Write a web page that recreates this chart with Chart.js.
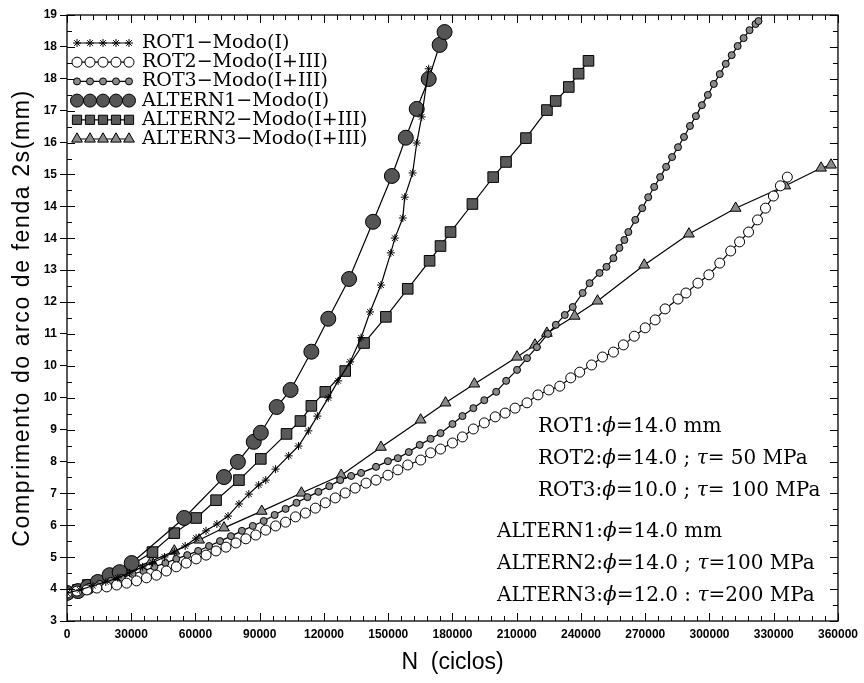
<!DOCTYPE html>
<html>
<head>
<meta charset="utf-8">
<script src="https://cdn.jsdelivr.net/npm/chart.js@4.4.1/dist/chart.umd.min.js"></script>
<style>
  html, body { margin: 0; padding: 0; background: #fff; }
  #chart { display: block; }
</style>
</head>
<body>
<canvas id="chart" width="864" height="683"></canvas>
<script>
// N (ciclos) and crack arc length 2s (mm)
const rot1N = [0, 6000, 12100, 18100, 23700, 29200, 35300, 39900, 45500, 50100, 55200, 60300, 64900, 70000, 75200, 80300, 84900, 89500, 92800, 97400, 103500, 108100, 112700, 116900, 122000, 126600, 132200, 137300, 141500, 146600, 151200, 153100, 156800, 157700, 161400, 163300, 165600, 168900];
const rot1S = [3.74, 3.82, 3.93, 4.03, 4.14, 4.27, 4.43, 4.54, 4.69, 4.82, 4.98, 5.19, 5.38, 5.56, 5.77, 6.09, 6.35, 6.59, 6.72, 7.01, 7.36, 7.62, 8.02, 8.41, 8.89, 9.34, 9.84, 10.48, 11.16, 11.87, 12.72, 13.11, 13.64, 14.19, 14.83, 15.62, 16.31, 17.58];

const rot2N = [0, 4640, 9280, 13920, 18560, 23200, 27840, 32470, 37110, 41750, 46390, 51030, 55670, 60310, 64950, 69590, 74230, 78870, 83510, 88150, 92780, 97420, 102060, 106700, 111340, 115980, 120620, 125260, 129900, 134540, 139640, 144280, 149850, 154480, 159120, 165150, 169790, 174430, 180000, 184640, 189740, 194850, 199950, 204590, 209230, 214790, 219900, 225000, 230100, 235210, 239390, 244950, 250050, 255160, 259800, 264900, 270000, 274640, 279280, 285310, 289020, 294590, 299690, 304790, 309900, 314070, 318250, 322430, 326140, 329850, 333100, 336350];
const rot2S = [3.74, 3.79, 3.82, 3.87, 3.90, 3.95, 4.00, 4.06, 4.14, 4.21, 4.32, 4.43, 4.53, 4.64, 4.74, 4.85, 4.95, 5.06, 5.17, 5.27, 5.40, 5.51, 5.61, 5.75, 5.85, 5.98, 6.12, 6.25, 6.38, 6.51, 6.64, 6.72, 6.85, 6.99, 7.12, 7.25, 7.44, 7.54, 7.70, 7.86, 8.07, 8.23, 8.39, 8.49, 8.62, 8.76, 8.97, 9.10, 9.20, 9.42, 9.57, 9.76, 9.97, 10.10, 10.29, 10.52, 10.74, 10.95, 11.24, 11.50, 11.66, 11.92, 12.14, 12.45, 12.77, 13.01, 13.27, 13.59, 13.90, 14.22, 14.49, 14.72];

const rot3N = [0, 5100, 10210, 15310, 20410, 25520, 30620, 35720, 40820, 45930, 51030, 56130, 61240, 66340, 71440, 76550, 81650, 86750, 91860, 96960, 102060, 107160, 112270, 117370, 122470, 127580, 132680, 137320, 144280, 149850, 154480, 159590, 164690, 169790, 174430, 180000, 184640, 189740, 194850, 200410, 205050, 210150, 214790, 219430, 224540, 228250, 232430, 236140, 240780, 244020, 248660, 251910, 255160, 257940, 260260, 262120, 265360, 268610, 271390, 274180, 276960, 279750, 282530, 285310, 288100, 290880, 293660, 296450, 299230, 302020, 304800, 307590, 310370, 313150, 315940, 318720, 321500, 322890];
const rot3S = [3.74, 3.82, 3.90, 3.98, 4.06, 4.14, 4.24, 4.32, 4.43, 4.53, 4.64, 4.74, 4.85, 4.98, 5.11, 5.24, 5.38, 5.51, 5.64, 5.80, 5.96, 6.12, 6.27, 6.41, 6.56, 6.72, 6.83, 6.91, 7.07, 7.22, 7.30, 7.46, 7.65, 7.81, 7.96, 8.20, 8.41, 8.62, 8.83, 9.05, 9.34, 9.63, 9.94, 10.23, 10.58, 10.82, 11.08, 11.29, 11.66, 11.92, 12.19, 12.35, 12.58, 12.85, 13.06, 13.27, 13.59, 13.90, 14.19, 14.46, 14.72, 14.99, 15.25, 15.51, 15.78, 16.07, 16.33, 16.62, 16.89, 17.18, 17.44, 17.71, 17.94, 18.18, 18.39, 18.60, 18.76, 18.84];

const altern1N = [0, 5100, 9700, 14400, 19900, 24600, 30200, 54700, 73300, 79800, 87200, 90500, 97900, 104400, 114100, 122000, 131700, 142900, 151700, 158200, 163300, 168900, 174000, 176300];
const altern1S = [3.74, 3.79, 3.90, 4.03, 4.21, 4.29, 4.53, 5.72, 6.80, 7.20, 7.73, 7.97, 8.65, 9.10, 10.11, 10.98, 12.03, 13.54, 14.75, 15.76, 16.52, 17.31, 18.21, 18.55];

const altern2N = [0, 5100, 9700, 14400, 19500, 24600, 30200, 39900, 50100, 60300, 69600, 80300, 90500, 102500, 109000, 114100, 120600, 129900, 138700, 148900, 159100, 169300, 174400, 179100, 189300, 199000, 205000, 214300, 224100, 228200, 234300, 238900, 243500];
const altern2S = [3.74, 3.82, 3.95, 4.03, 4.16, 4.29, 4.48, 4.82, 5.32, 5.72, 6.19, 6.72, 7.28, 7.94, 8.28, 8.68, 9.05, 9.60, 10.34, 11.03, 11.77, 12.51, 12.90, 13.27, 14.01, 14.72, 15.12, 15.75, 16.49, 16.73, 17.10, 17.45, 17.79];

const altern3N = [0, 9740, 19480, 29230, 39430, 50100, 61700, 73300, 90930, 109480, 128040, 146600, 165150, 176750, 190210, 210150, 218500, 224070, 237060, 247730, 269540, 290410, 312220, 335410, 352120, 356750];
const altern3S = [3.74, 3.92, 4.14, 4.35, 4.58, 4.85, 5.14, 5.46, 5.90, 6.38, 6.85, 7.59, 8.31, 8.76, 9.26, 9.97, 10.29, 10.60, 11.05, 11.45, 12.40, 13.22, 13.90, 14.49, 14.96, 15.04];

const seriesNames = ['ROT1\u2212Modo(I)', 'ROT2\u2212Modo(I+III)', 'ROT3\u2212Modo(I+III)',
                     'ALTERN1\u2212Modo(I)', 'ALTERN2\u2212Modo(I+III)', 'ALTERN3\u2212Modo(I+III)'];

// y axis labels exactly as printed (20 evenly spaced ticks from 3 to 19)
const yTickLabels = ['3', '4', '5', '6', '7', '8', '9', '10', '10', '11', '12', '13', '14', '14', '15', '16', '17', '18', '18', '19'];
const yMin = 3, yMax = 19;
const xMin = 0, xMax = 360000, xStep = 30000;
const yTitle = 'Comprimento do arco de fenda 2s(mm)';

const notes = [
    { x: 538, y: 427, parts: ['ROT1:', ['\u03d5'], '=14.0 mm'] },
    { x: 538, y: 459, parts: ['ROT2:', ['\u03d5'], '=14.0 ; ', ['\u03c4'], '= 50 MPa'] },
    { x: 538, y: 491, parts: ['ROT3:', ['\u03d5'], '=10.0 ; ', ['\u03c4'], '= 100 MPa'] },
    { x: 497, y: 532, parts: ['ALTERN1:', ['\u03d5'], '=14.0 mm'] },
    { x: 497, y: 564, parts: ['ALTERN2:', ['\u03d5'], '=14.0 ; ', ['\u03c4'], '=100 MPa'] },
    { x: 497, y: 596, parts: ['ALTERN3:', ['\u03d5'], '=12.0 : ', ['\u03c4'], '=200 MPa'] }
];

function pts(xs, ys) {
    return xs.map((v, i) => ({ x: v, y: ys[i] }));
}

function series(label, xs, ys, style, radius, fill) {
    return {
        label: label,
        data: pts(xs, ys),
        showLine: true,
        borderColor: '#000',
        borderWidth: 1.2,
        pointStyle: style,
        pointRadius: radius,
        pointBackgroundColor: fill,
        pointBorderColor: '#000',
        pointBorderWidth: 1,
        tension: 0
    };
}

const whiteBg = {
    id: 'whiteBg',
    beforeDraw(chart) {
        const ctx = chart.ctx;
        ctx.save();
        ctx.fillStyle = '#fff';
        ctx.fillRect(0, 0, chart.width, chart.height);
        ctx.restore();
    }
};

// frame with inward ticks on all four sides, plus the spaced-out y title
const frameTicks = {
    id: 'frameTicks',
    afterDraw(chart) {
        const { ctx, chartArea: a, scales: { x, y } } = chart;
        ctx.save();
        ctx.strokeStyle = '#000';
        ctx.lineWidth = 1.3;
        ctx.strokeRect(a.left, a.top, a.width, a.height);
        ctx.lineWidth = 1;
        ctx.beginPath();
        for (let n = xMin; n <= xMax; n += xStep / 5) {
            const px = Math.round(x.getPixelForValue(n)) + 0.5;
            const len = n % xStep === 0 ? 8 : 5;
            ctx.moveTo(px, a.bottom); ctx.lineTo(px, a.bottom - len);
            ctx.moveTo(px, a.top); ctx.lineTo(px, a.top + len);
        }
        const nY = (yTickLabels.length - 1) * 2;
        for (let k = 0; k <= nY; k++) {
            const py = Math.round(y.getPixelForValue(yMin + k * (yMax - yMin) / nY)) + 0.5;
            const len = k % 2 === 0 ? 8 : 5;
            ctx.moveTo(a.left, py); ctx.lineTo(a.left + len, py);
            ctx.moveTo(a.right, py); ctx.lineTo(a.right - len, py);
        }
        ctx.stroke();

        ctx.translate(23, (a.top + a.bottom) / 2);
        ctx.rotate(-Math.PI / 2);
        ctx.fillStyle = '#000';
        ctx.font = '23px "Liberation Sans", Arial, sans-serif';
        ctx.letterSpacing = '1.6px';
        ctx.textAlign = 'center';
        ctx.textBaseline = 'middle';
        ctx.fillText(yTitle, 0, 0);
        ctx.restore();
    }
};

// legend: five markers joined by a line, then the name
const markerLegend = {
    id: 'markerLegend',
    afterDraw(chart) {
        const ctx = chart.ctx;
        ctx.save();
        chart.data.datasets.forEach((ds, i) => {
            const yy = 43 + i * 19.2;
            ctx.strokeStyle = '#000';
            ctx.lineWidth = 1.2;
            ctx.beginPath();
            ctx.moveTo(77, yy); ctx.lineTo(129, yy);
            ctx.stroke();
            for (let k = 0; k < 5; k++) {
                ctx.fillStyle = ds.pointBackgroundColor;
                ctx.strokeStyle = '#000';
                ctx.lineWidth = 1;
                Chart.helpers.drawPoint(ctx, {
                    pointStyle: ds.pointStyle,
                    radius: Math.min(ds.pointRadius, 6.5),
                    rotation: 0,
                    borderWidth: 1
                }, 77 + k * 13, yy);
            }
            ctx.fillStyle = '#000';
            ctx.font = '19px "DejaVu Serif", serif';
            ctx.textBaseline = 'middle';
            ctx.textAlign = 'left';
            ctx.fillText(seriesNames[i], 142, yy);
        });
        ctx.restore();
    }
};

// parameter notes in the lower right
const paramNotes = {
    id: 'paramNotes',
    afterDraw(chart) {
        const ctx = chart.ctx;
        ctx.save();
        ctx.fillStyle = '#000';
        ctx.textBaseline = 'middle';
        ctx.textAlign = 'left';
        notes.forEach(n => {
            let cx = n.x;
            n.parts.forEach(p => {
                const italic = Array.isArray(p);
                const s = italic ? p[0] : p;
                ctx.font = (italic ? 'italic ' : '') + '20px "DejaVu Serif", serif';
                ctx.fillText(s, cx, n.y);
                cx += ctx.measureText(s).width;
            });
        });
        ctx.restore();
    }
};

new Chart(document.getElementById('chart'), {
    type: 'scatter',
    data: {
        datasets: [
            series(seriesNames[0], rot1N, rot1S, 'star', 4, '#000'),
            series(seriesNames[1], rot2N, rot2S, 'circle', 5, '#fff'),
            series(seriesNames[2], rot3N, rot3S, 'circle', 3.5, '#8a8a8a'),
            series(seriesNames[3], altern1N, altern1S, 'circle', 7.5, '#555'),
            series(seriesNames[4], altern2N, altern2S, 'rect', 7.5, '#5a5a5a'),
            series(seriesNames[5], altern3N, altern3S, 'triangle', 6.2, '#8a8a8a')
        ]
    },
    plugins: [whiteBg, frameTicks, markerLegend, paramNotes],
    options: {
        responsive: false,
        animation: false,
        layout: { padding: { left: 0, top: 15, right: 21, bottom: 0 } },
        plugins: {
            legend: { display: false },
            tooltip: { enabled: false }
        },
        scales: {
            x: {
                type: 'linear',
                min: xMin,
                max: xMax,
                afterFit(scale) { scale.height = 62; },
                border: { display: false },
                grid: { drawOnChartArea: false, drawTicks: false },
                ticks: {
                    stepSize: xStep,
                    padding: 6,
                    maxRotation: 0,
                    autoSkip: false,
                    color: '#000',
                    font: { family: '"Liberation Sans", Arial, sans-serif', size: 12, weight: 'bold' },
                    callback: v => String(v)
                },
                title: {
                    display: true,
                    text: 'N  (ciclos)',
                    color: '#000',
                    font: { family: '"Liberation Sans", Arial, sans-serif', size: 23 },
                    padding: { top: 0, bottom: 7 }
                }
            },
            y: {
                type: 'linear',
                min: yMin,
                max: yMax,
                afterFit(scale) { scale.width = 67; },
                afterBuildTicks(scale) {
                    scale.ticks = yTickLabels.map((_, i) => ({ value: yMin + i * (yMax - yMin) / (yTickLabels.length - 1) }));
                },
                border: { display: false },
                grid: { drawOnChartArea: false, drawTicks: true, tickLength: 7, color: '#000' },
                ticks: {
                    padding: 3,
                    autoSkip: false,
                    color: '#000',
                    font: { family: '"Liberation Sans", Arial, sans-serif', size: 12, weight: 'bold' },
                    callback: (v, i) => yTickLabels[i]
                },
                title: { display: false }
            }
        }
    }
});
</script>
</body>
</html>
